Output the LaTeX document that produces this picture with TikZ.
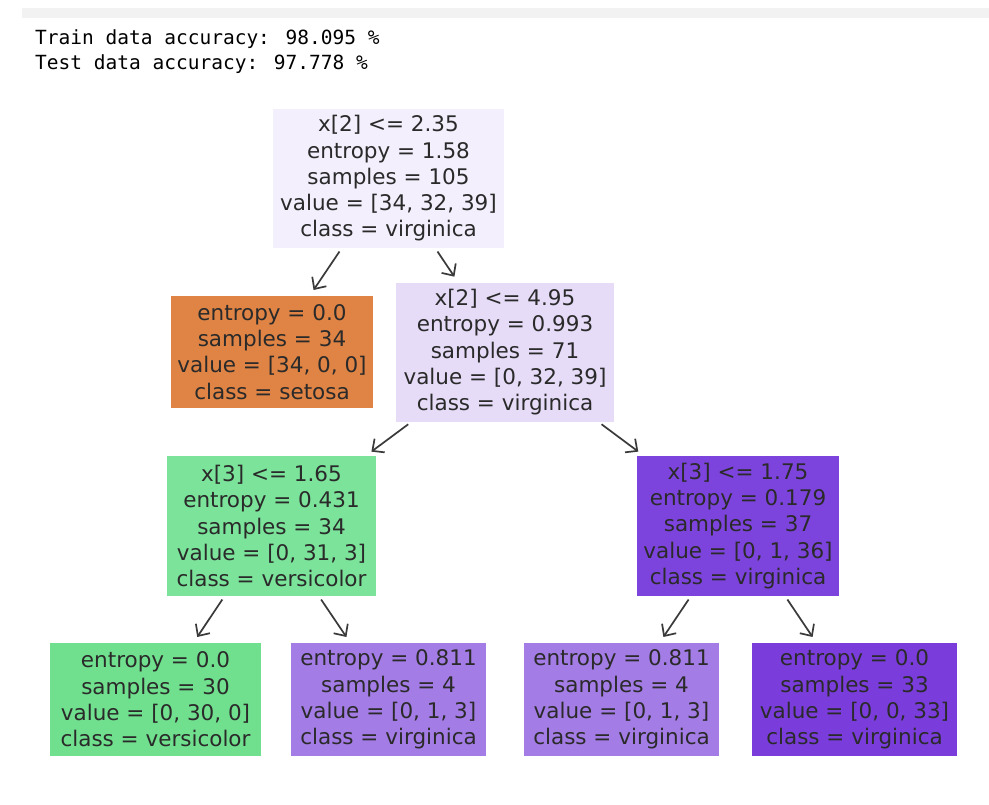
\documentclass[tikz,border=0pt]{standalone}
\usepackage{fontspec}
\usetikzlibrary{arrows.meta}
\newfontfamily\treefont{DejaVu Sans}
\newfontfamily\codefont{DejaVu Sans Mono}
\definecolor{bargray}{HTML}{F2F2F2}
\definecolor{cRoot}{HTML}{F3EFFC}
\definecolor{cSetosa}{HTML}{DF8445}
\definecolor{cNodeB}{HTML}{E6DCF8}
\definecolor{cVersA}{HTML}{7BE39A}
\definecolor{cVirgA}{HTML}{7D44DD}
\definecolor{cVersB}{HTML}{70E08E}
\definecolor{cVirgB}{HTML}{A47CE6}
\definecolor{cVirgC}{HTML}{7A3DDB}
\definecolor{txt}{HTML}{2A2A2A}
\definecolor{arrc}{HTML}{3A3A3A}
\begin{document}
\begin{tikzpicture}[x=1pt,y=-1pt,
  treebox/.style={rectangle, inner sep=0pt, align=center, text=txt,
    font=\treefont\fontsize{21.5}{26.25}\selectfont},
  codeline/.style={anchor=base west, inner sep=0pt, text=black,
    font=\codefont\fontsize{19.5}{25.5}\selectfont},
  arr/.style={draw=arrc, line width=1.7pt, shorten <=4pt, shorten >=7pt,
    -{Straight Barb[length=9pt,width=17pt]}}
]
\useasboundingbox (0,0) rectangle (989,805);
\fill[white] (0,0) rectangle (989,805);
\fill[bargray] (22,8) rectangle (989,18);
\node[codeline] (train) at (35,44.5) {Train data accuracy: 98.095 \%};
\node[codeline] (test) at (35,70) {Test data accuracy: 97.778 \%};

\node[treebox, fill=cRoot, minimum width=231pt, minimum height=139pt] (root) at (388.5,178.5)
  {x[2] <= 2.35\\entropy = 1.58\\samples = 105\\value = [34, 32, 39]\\class = virginica};
\node[treebox, fill=cSetosa, minimum width=202pt, minimum height=112pt] (setosa) at (272,352)
  {entropy = 0.0\\samples = 34\\value = [34, 0, 0]\\class = setosa};
\node[treebox, fill=cNodeB, minimum width=218pt, minimum height=139pt] (nodeb) at (505,352.2)
  {x[2] <= 4.95\\entropy = 0.993\\samples = 71\\value = [0, 32, 39]\\class = virginica};
\node[treebox, fill=cVersA, minimum width=209pt, minimum height=140pt] (nodec) at (271.5,526)
  {x[3] <= 1.65\\entropy = 0.431\\samples = 34\\value = [0, 31, 3]\\class = versicolor};
\node[treebox, fill=cVirgA, minimum width=202pt, minimum height=140pt] (noded) at (738,526)
  {x[3] <= 1.75\\entropy = 0.179\\samples = 37\\value = [0, 1, 36]\\class = virginica};
\node[treebox, fill=cVersB, minimum width=211pt, minimum height=113pt] (leafa) at (155.5,699.5)
  {entropy = 0.0\\samples = 30\\value = [0, 30, 0]\\class = versicolor};
\node[treebox, fill=cVirgB, minimum width=195pt, minimum height=113pt] (leafb) at (388.5,699.5)
  {entropy = 0.811\\samples = 4\\value = [0, 1, 3]\\class = virginica};
\node[treebox, fill=cVirgB, minimum width=195pt, minimum height=113pt] (leafc) at (621.5,699.5)
  {entropy = 0.811\\samples = 4\\value = [0, 1, 3]\\class = virginica};
\node[treebox, fill=cVirgC, minimum width=205pt, minimum height=113pt] (leafd) at (854.5,699.5)
  {entropy = 0.0\\samples = 33\\value = [0, 0, 33]\\class = virginica};

\draw[arr] (root) -- (setosa);
\draw[arr] (root) -- (nodeb);
\draw[arr] (nodeb) -- (nodec);
\draw[arr] (nodeb) -- (noded);
\draw[arr] (nodec) -- (leafa);
\draw[arr] (nodec) -- (leafb);
\draw[arr] (noded) -- (leafc);
\draw[arr] (noded) -- (leafd);
\end{tikzpicture}
\end{document}
